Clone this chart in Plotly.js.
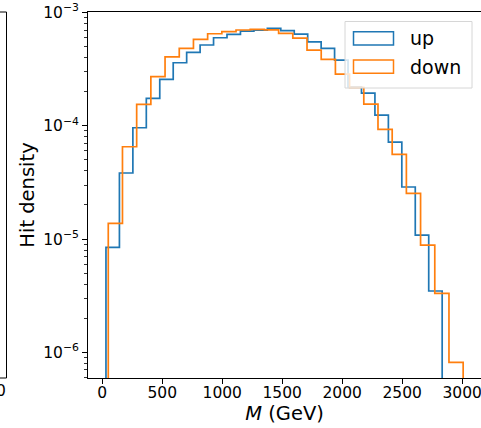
<!DOCTYPE html>
<html>
<head>
<meta charset="utf-8">
<script src="https://cdn.plot.ly/plotly-3.0.1.min.js"></script>
<style>html,body{margin:0;padding:0;background:#fff;}#chart{width:481px;height:428px;}</style>
</head>
<body>
<div id="chart"></div>
<script>
// Bin edges (GeV) and hit densities
const upEdges = [30.8, 142.9, 255.0, 367.1, 479.2, 591.3, 703.4, 815.5, 927.6, 1039.7, 1151.8, 1263.9, 1376.0,
  1488.1, 1600.2, 1712.3, 1824.4, 1936.5, 2048.6, 2160.7, 2272.8, 2384.9, 2497.0, 2609.1, 2721.2, 2833.3];
const upValues = [8.45e-6, 3.83e-5, 9.6e-5, 1.745e-4, 2.57e-4, 3.6e-4, 4.44e-4, 5.16e-4, 5.98e-4, 6.41e-4,
  6.85e-4, 6.99e-4, 7.24e-4, 6.92e-4, 6.45e-4, 5.51e-4, 4.82e-4, 3.8e-4, 2.2e-4, 1.94e-4, 1.24e-4,
  7.18e-5, 2.88e-5, 1.085e-5, 3.48e-6];
const downEdges = [50.0, 168.3, 286.7, 405.0, 523.3, 641.7, 760.0, 878.3, 996.7, 1115.0, 1233.3, 1351.7, 1470.0,
  1588.3, 1706.7, 1825.0, 1943.3, 2061.7, 2180.0, 2298.3, 2416.7, 2535.0, 2653.3, 2771.7, 2890.0, 3008.3];
const downValues = [1.376e-5, 6.53e-5, 1.545e-4, 2.71e-4, 4.06e-4, 4.82e-4, 5.79e-4, 6.49e-4, 6.76e-4, 7.0e-4,
  7.09e-4, 7.03e-4, 6.54e-4, 5.94e-4, 4.66e-4, 3.86e-4, 2.86e-4, 2.18e-4, 1.55e-4, 9.29e-5, 5.59e-5,
  2.53e-5, 8.85e-6, 3.32e-6, 8.16e-7];
const seriesNames = ['up', 'down'];
const xTickVals = [0, 500, 1000, 1500, 2000, 2500, 3000];
const yTickVals = [1e-6, 1e-5, 1e-4, 1e-3];
const yTickText = ['10<sup>\u22126</sup>', '10<sup>\u22125</sup>', '10<sup>\u22124</sup>', '10<sup>\u22123</sup>'];

const blue = '#1f77b4', orange = '#ff7f0e';
const yRange = [-6.226, -2.996];
const floor = Math.pow(10, yRange[0] - 2);

function stepXY(edges, vals) {
  const x = [edges[0]], y = [floor];
  for (let i = 0; i < vals.length; i++) { x.push(edges[i]); y.push(vals[i]); }
  x.push(edges[edges.length - 1]); y.push(floor);
  return {x, y};
}
const u = stepXY(upEdges, upValues), d = stepXY(downEdges, downValues);

const traces = [
  {type: 'scatter', mode: 'lines', name: seriesNames[0], x: u.x, y: u.y,
   line: {color: blue, width: 1.7, shape: 'hv'}, showlegend: false, hoverinfo: 'skip'},
  {type: 'scatter', mode: 'lines', name: seriesNames[1], x: d.x, y: d.y,
   line: {color: orange, width: 1.7, shape: 'hv'}, showlegend: false, hoverinfo: 'skip'}
];

const minorVals = [];
for (let e = -7; e <= -4; e++) for (let m = 2; m <= 9; m++) minorVals.push(m * Math.pow(10, e));

const L = 88, W = 393, T = 12, H = 366;
const px = v => (v - L) / W;
const py = v => (T + H - v) / H;

const layout = {
  width: 481, height: 428,
  margin: {l: L, r: 0, t: T, b: 428 - T - H, pad: 0},
  paper_bgcolor: '#fff', plot_bgcolor: '#fff',
  font: {family: 'DejaVu Sans', size: 15.5, color: '#000'},
  showlegend: false,
  xaxis: {
    range: [-119, 3157], tickmode: 'array', tickvals: xTickVals,
    ticks: 'outside', ticklen: 5, tickwidth: 1, tickcolor: '#000',
    ticklabeloverflow: 'allow', ticklabelstandoff: -5,
    showline: true, linecolor: '#000', linewidth: 1, mirror: true,
    showgrid: false, zeroline: false,
    tickfont: {family: 'DejaVu Sans', size: 15.5, color: '#000'},
    title: {text: '<i>M</i> (GeV)', font: {family: 'DejaVu Sans', size: 19.5, color: '#000'}, standoff: 4}
  },
  yaxis: {
    type: 'log', range: yRange, tickmode: 'array', tickvals: yTickVals, ticktext: yTickText,
    ticks: 'outside', ticklen: 5, tickwidth: 1, tickcolor: '#000',
    ticklabeloverflow: 'allow',
    minor: {tickmode: 'array', tickvals: minorVals, ticks: 'outside', ticklen: 3, tickwidth: 0.8, tickcolor: '#000', showgrid: false},
    showline: true, linecolor: '#000', linewidth: 1, mirror: false,
    showgrid: false, zeroline: false,
    tickfont: {family: 'DejaVu Sans', size: 15.5, color: '#000'},
    title: {text: 'Hit density', font: {family: 'DejaVu Sans', size: 19.5, color: '#000'}, standoff: 3}
  },
  shapes: [
    // fragment of neighbouring panel
    {type: 'line', xref: 'paper', yref: 'paper', x0: px(6.5), x1: px(6.5), y0: 0, y1: 1, line: {color: '#000', width: 1}},
    {type: 'line', xref: 'paper', yref: 'paper', x0: px(-2), x1: px(6.5), y0: 1, y1: 1, line: {color: '#000', width: 1}},
    {type: 'line', xref: 'paper', yref: 'paper', x0: px(-2), x1: px(6.5), y0: 0, y1: 0, line: {color: '#000', width: 1}},
    // legend frame and handles
    {type: 'rect', xref: 'paper', yref: 'paper', layer: 'above', x0: px(345), x1: px(472), y0: py(88), y1: py(21.5),
     line: {color: '#d6d6d6', width: 1}, fillcolor: 'rgba(255,255,255,0.8)'},
    {type: 'rect', xref: 'paper', yref: 'paper', layer: 'above', x0: px(353.5), x1: px(393.5), y0: py(45), y1: py(31.7),
     line: {color: blue, width: 1.5}, fillcolor: 'rgba(0,0,0,0)'},
    {type: 'rect', xref: 'paper', yref: 'paper', layer: 'above', x0: px(353.5), x1: px(393.5), y0: py(73.3), y1: py(60),
     line: {color: orange, width: 1.5}, fillcolor: 'rgba(0,0,0,0)'}
  ],
  annotations: [
    {xref: 'paper', yref: 'paper', x: px(408), y: py(38), xanchor: 'left', yanchor: 'middle', showarrow: false,
     text: seriesNames[0], font: {family: 'DejaVu Sans', size: 19, color: '#000'}},
    {xref: 'paper', yref: 'paper', x: px(408), y: py(67), xanchor: 'left', yanchor: 'middle', showarrow: false,
     text: seriesNames[1], font: {family: 'DejaVu Sans', size: 19, color: '#000'}},
    {xref: 'paper', yref: 'paper', x: px(8), y: py(391), xanchor: 'right', yanchor: 'middle', showarrow: false,
     text: '0', font: {family: 'DejaVu Sans', size: 15.5, color: '#000'}}
  ]
};

Plotly.newPlot('chart', traces, layout, {staticPlot: true, displayModeBar: false});
</script>
</body>
</html>
